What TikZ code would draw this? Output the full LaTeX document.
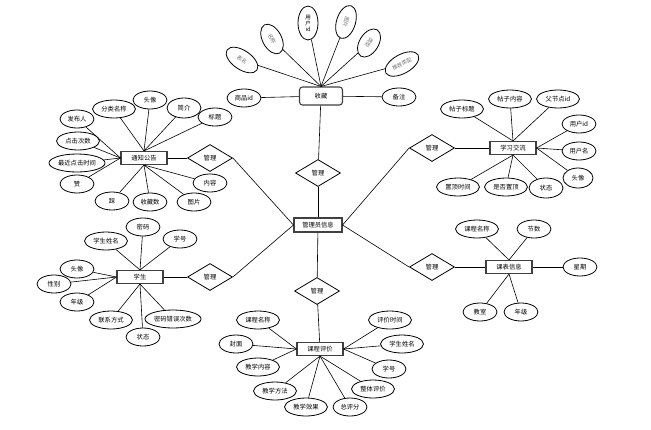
\documentclass[tikz,border=0pt]{standalone}
\usepackage{fontspec}
\newfontfamily\cjk{Noto Sans CJK SC}
\usetikzlibrary{shapes.geometric}

\begin{document}
\begin{tikzpicture}[x=1pt, y=-1pt,
      font=\cjk\fontsize{6.3}{7.3}\selectfont,
      ent/.style={draw=black!75, line width=1.1pt, fill=white,
                  minimum width=46pt, minimum height=13pt, inner sep=1pt},
      attr/.style={ellipse, draw, line width=0.8pt, fill=white,
                   minimum width=34pt, minimum height=18pt, inner sep=0pt},
      attrw/.style={attr, minimum width=43pt},
      attrww/.style={attr, minimum width=56pt},
      tilt/.style={attr, minimum width=34pt, minimum height=19pt, text=black!55,
                   font=\cjk\fontsize{5.3}{6}\selectfont},
      rel/.style={diamond, draw, line width=0.8pt, fill=white, aspect=1.67,
                  minimum width=45pt, minimum height=27pt, inner sep=0pt},
      link/.style={draw, line width=0.6pt}]
    \useasboundingbox (0,0) rectangle (651,429);

    % central entity
    \node[ent, minimum width=48pt, minimum height=14pt] (admin) at (318,225) {管理员信息};

    % 收藏
    \node[ent, rounded corners=3pt, minimum width=43pt, minimum height=18pt] (sc) at (321,96) {收藏};
    \node[rel] (scRel) at (318,173) {管理};
    \node[attr] (scSpid) at (244,98) {商品id};
    \node[attr] (scBz) at (399,97) {备注};
    \node[tilt, minimum width=36pt, rotate=-34] (scBm) at (242,60) {表名};
    \node[tilt, minimum width=32pt, rotate=-62] (scMc) at (272,39) {名称};
    \node[attr, minimum width=20pt, minimum height=34pt, align=center,
          font=\cjk\fontsize{5.5}{6}\selectfont] (scYh) at (308,23) {用\\户\\id};
    \node[tilt, rotate=-107] (scTp) at (346,22) {图片};
    \node[tilt, minimum width=31pt, rotate=-122] (scLx) at (369,43) {类型};
    \node[tilt, minimum width=37pt, rotate=29] (scTj) at (402,64) {推荐类型};
    \foreach \a in {scBm, scMc, scYh, scTp, scLx, scTj}
      \draw[link] (\a) -- (sc.north);
    \draw[link] (scSpid) -- (sc);
    \draw[link] (scBz) -- (sc);
    \draw[link] (sc) -- (scRel);
    \draw[link] (scRel) -- (admin);

    % 通知公告
    \node[ent] (tz) at (144,158) {通知公告};
    \node[rel] (tzRel) at (210,158) {管理};
    \node[attrw] (tzFl) at (114,109) {分类名称};
    \node[attr] (tzTx) at (150,100) {头像};
    \node[attr, minimum height=20pt] (tzJj) at (184,108) {简介};
    \node[attr] (tzBt) at (215,117) {标题};
    \node[attr] (tzFb) at (77,119) {发布人};
    \node[attrw] (tzDj) at (78,141) {点击次数};
    \node[attrww] (tzZj) at (77,163) {最近点击时间};
    \node[attr] (tzZan) at (77,184) {赞};
    \node[attr] (tzCai) at (112,201) {踩};
    \node[attr] (tzSc) at (150,202) {收藏数};
    \node[attr] (tzTp) at (194,202) {图片};
    \node[attr] (tzNr) at (210,183) {内容};
    \foreach \a in {tzFl, tzTx, tzJj, tzBt}
      \draw[link] (\a) -- (tz.north);
    \foreach \a in {tzFb, tzDj, tzZj, tzZan}
      \draw[link] (\a) -- (tz.west);
    \foreach \a in {tzCai, tzSc, tzTp, tzNr}
      \draw[link] (\a) -- (tz.south);
    \draw[link] (tz) -- (tzRel);
    \draw[link] (tzRel.east) -- (admin.west);

    % 学生
    \node[ent] (xs) at (140,277) {学生};
    \node[rel] (xsRel) at (210,277) {管理};
    \node[attr] (xsMm) at (143,227) {密码};
    \node[attrw] (xsXm) at (106,241) {学生姓名};
    \node[attr] (xsXh) at (180,239) {学号};
    \node[attr] (xsTx) at (77,269) {头像};
    \node[attr] (xsXb) at (54,284) {性别};
    \node[attr] (xsNj) at (77,302) {年级};
    \node[attrw] (xsLx) at (111,320) {联系方式};
    \node[attr] (xsZt) at (143,337) {状态};
    \node[attrww] (xsCw) at (173,319) {密码错误次数};
    \foreach \a in {xsMm, xsXm, xsXh}
      \draw[link] (\a) -- (xs.north);
    \foreach \a in {xsTx, xsXb, xsNj}
      \draw[link] (\a) -- (xs.west);
    \foreach \a in {xsLx, xsZt, xsCw}
      \draw[link] (\a) -- (xs.south);
    \draw[link] (xs) -- (xsRel);
    \draw[link] (xsRel.east) -- (admin.west);

    % 学习交流
    \node[ent] (jl) at (513,148) {学习交流};
    \node[rel] (jlRel) at (432,148) {管理};
    \node[attrw] (jlBt) at (462,109) {帖子标题};
    \node[attrw] (jlNr) at (510,99) {帖子内容};
    \node[attrw] (jlFid) at (558,99) {父节点id};
    \node[attr] (jlYid) at (579,124) {用户id};
    \node[attr] (jlYm) at (579,151) {用户名};
    \node[attr, minimum width=30pt, minimum height=20pt] (jlTx) at (578,178) {头像};
    \node[attrw] (jlSj) at (458,187) {置顶时间};
    \node[attrw] (jlSf) at (506,187) {是否置顶};
    \node[attr, minimum height=20pt] (jlZt) at (546,188) {状态};
    \foreach \a in {jlBt, jlNr, jlFid}
      \draw[link] (\a) -- (jl.north);
    \foreach \a in {jlYid, jlYm, jlTx}
      \draw[link] (\a) -- (jl.east);
    \foreach \a in {jlSj, jlSf, jlZt}
      \draw[link] (\a) -- (jl.south);
    \draw[link] (jl) -- (jlRel);
    \draw[link] (admin.east) -- (jlRel.west);

    % 课表信息
    \node[ent] (kb) at (509,267) {课表信息};
    \node[rel] (kbRel) at (432,267) {管理};
    \node[attrw] (kbMc) at (477,229) {课程名称};
    \node[attr] (kbJs) at (534,229) {节数};
    \node[attr] (kbXq) at (580,267) {星期};
    \node[attr] (kbJsh) at (480,312) {教室};
    \node[attr] (kbNj) at (521,312) {年级};
    \foreach \a in {kbMc, kbJs}
      \draw[link] (\a) -- (kb.north);
    \foreach \a in {kbJsh, kbNj}
      \draw[link] (\a) -- (kb.south);
    \draw[link] (kbXq) -- (kb);
    \draw[link] (kb) -- (kbRel);
    \draw[link] (admin.east) -- (kbRel.west);

    % 课程评价
    \node[ent] (pj) at (320,349) {课程评价};
    \node[rel] (pjRel) at (317,291) {管理};
    \node[attrw] (pjMc) at (258,320) {课程名称};
    \node[attr] (pjFm) at (236,344) {封面};
    \node[attrw] (pjNr) at (258,367) {教学内容};
    \node[attrw] (pjFf) at (275,391) {教学方法};
    \node[attrw] (pjXg) at (306,407) {教学效果};
    \node[attr] (pjZf) at (350,407) {总评分};
    \node[attrw] (pjZt) at (373,389) {整体评价};
    \node[attr] (pjXh) at (389,369) {学号};
    \node[attrw] (pjXm) at (402,344) {学生姓名};
    \node[attrw] (pjSj) at (390,320) {评价时间};
    \foreach \a in {pjMc, pjFm, pjNr}
      \draw[link] (\a) -- (pj.west);
    \foreach \a in {pjFf, pjXg, pjZf, pjZt}
      \draw[link] (\a) -- (pj.south);
    \foreach \a in {pjXh, pjXm, pjSj}
      \draw[link] (\a) -- (pj.east);
    \draw[link] (admin) -- (pjRel);
    \draw[link] (pjRel) -- (pj);
  \end{tikzpicture}
\end{document}
